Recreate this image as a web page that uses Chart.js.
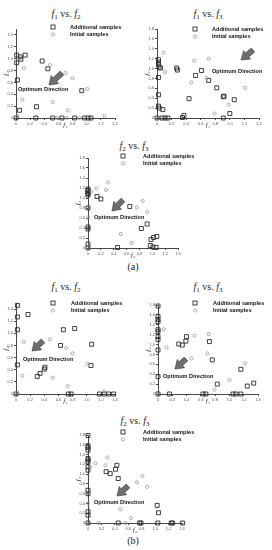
<!DOCTYPE html>
<html>
<head>
<meta charset="utf-8">
<script src="https://cdn.jsdelivr.net/npm/chart.js@4.4.1/dist/chart.umd.min.js"></script>
<style>
  body { margin: 0; width: 272px; height: 550px; background: #fff; position: relative; overflow: hidden; }
  .box { position: absolute; }
  .ttl { position: absolute; transform: translate(-50%, -50%); font-family: "Liberation Serif", serif; font-size: 10px; color: #222; white-space: nowrap; }
  .ttl sub { font-size: 70%; vertical-align: -2px; line-height: 0; }
</style>
</head>
<body>
<div class="ttl" style="left:66px;top:13px"><i>f</i><sub>1</sub> vs. <i>f</i><sub>2</sub></div>
<div class="ttl" style="left:208px;top:13px"><i>f</i><sub>1</sub> vs. <i>f</i><sub>3</sub></div>
<div class="ttl" style="left:134px;top:145px"><i>f</i><sub>2</sub> vs. <i>f</i><sub>3</sub></div>
<div class="ttl" style="left:133px;top:266px">(a)</div>
<div class="ttl" style="left:66px;top:286px"><i>f</i><sub>1</sub> vs. <i>f</i><sub>2</sub></div>
<div class="ttl" style="left:208px;top:286px"><i>f</i><sub>1</sub> vs. <i>f</i><sub>3</sub></div>
<div class="ttl" style="left:135px;top:420px"><i>f</i><sub>2</sub> vs. <i>f</i><sub>3</sub></div>
<div class="ttl" style="left:133px;top:540px">(b)</div>

<script>
// Pareto projections - additional (squares) and initial (circles) samples

// (a) f1 vs f2
const aF1F2Add = [[0.01,1.06],[0.06,1.03],[0.13,1.06],[0.07,0.99],[0.01,0.93],[0.37,0.96],[0.45,0.83],[0.02,0.64],[0.93,0.46],[0.05,0.13],[0.29,0.19],[0,0],[0.28,0],[0.52,0],[0.65,0],[0.83,0],[0.97,0],[1.02,0],[1.06,0]];
const aF1F2Init = [[0.11,0.84],[0.48,0.89],[0.70,0.76],[0.80,0.67],[1.01,0.49],[0.09,0.31],[0.52,0.27],[0.73,0.13],[1.25,0.03],[0.02,0.03],[0.58,0],[0.72,0],[0.90,0]];
// (a) f1 vs f3
const aF1F3Add = [[0.02,1.18],[0.02,1.13],[0.02,1.08],[0.03,1.03],[0.05,1.01],[0.02,0.82],[0.02,0.47],[0.02,0.24],[0.03,0.20],[0.08,0.17],[0.27,1.01],[0.28,0.97],[0.53,0.86],[0.61,0.96],[0.71,0.76],[0.82,0.61],[0.91,0.43],[0.92,0.44],[1.06,0.37],[0.44,0.39],[1.00,0.09],[0.37,0.05],[0.35,0.01],[0.07,0],[0.11,0],[0.15,0],[0.91,0],[0,0]];
const aF1F3Init = [[0.09,1.32],[0.11,0.93],[0.51,1.16],[0.71,1.20],[0.47,0.72],[0.68,0.81],[1.21,0.61],[0.79,0.09],[0.98,0.27],[0,0]];
// (a) f2 vs f3
const aF2F3Add = [[0,1.18],[0,1.15],[0,1.12],[0,1.09],[0,1.06],[0,0.80],[0,0.42],[0,0.38],[0,0.08],[0,0],[0.14,1.03],[0.20,0.98],[0.65,0.83],[0.83,0.39],[0.92,0.48],[0.98,0.17],[1.02,0.21],[1.07,0.23],[0.97,0.05],[1.01,0.02],[1.06,0.01],[0.46,0.01]];
const aF2F3Init = [[0.05,1.13],[0.13,1.19],[0.28,1.16],[0.31,1.31],[0.76,0.81],[0.85,0.94],[0.92,0.72],[0.51,0.28],[0.68,0.10],[0,0.61],[0,0.80],[0,0.08],[0,0]];

// (b) f1 vs f2
const bF1F2Add = [[0.02,1.46],[0.02,1.27],[0.17,1.31],[0.02,1.06],[0.67,1.06],[0.83,1.08],[0.63,0.80],[1.07,0.82],[0.02,0.48],[0.41,0.44],[0.40,0.41],[0.34,0.34],[0.30,0.29],[1.06,0.47],[0,0],[0.74,0],[0.78,0],[1.18,0],[1.25,0],[1.31,0],[1.38,0]];
const bF1F2Init = [[0.11,0.86],[0.48,0.90],[0.71,0.76],[0.80,0.67],[1.01,0.50],[0.09,0.30],[0.52,0.27],[0.73,0.13],[1.25,0.04],[0.02,0.02]];
// (b) f1 vs f3
const bF1F3Add = [[0,1.78],[0,1.57],[0,1.51],[0,1.46],[0,1.30],[0,1.26],[0,1.16],[0,1.10],[0,0.89],[0,0.35],[0,0],[0.29,1.01],[0.34,0.99],[0.39,1.07],[0.40,1.16],[0.72,1.06],[0.76,0.69],[0.83,0.20],[1.16,0.50],[1.25,0.16],[1.34,0.22],[0.16,0],[0.63,0],[0.67,0],[1.05,0],[1.09,0],[1.16,0]];
const bF1F3Init = [[0.08,1.31],[0.12,0.94],[0.51,1.18],[0.71,1.21],[0.47,0.72],[0.69,0.82],[1.22,0.62],[0.79,0.09],[1.00,0.28],[0,0]];
// (b) f2 vs f3
const bF2F3Add = [[0,1.79],[0,1.58],[0,1.54],[0,1.49],[0,1.32],[0,1.29],[0,1.25],[0,1.15],[0,1.08],[0,0.67],[0,0.60],[0,0.23],[0,0.16],[0,0],[0.27,1.05],[0.33,1.01],[0.41,1.10],[0.43,1.18],[0.45,0.91],[1.03,0.36],[1.05,0.21],[0.45,0],[0.77,0],[0.79,0],[1.04,0],[1.24,0],[1.26,0],[1.41,0]];
const bF2F3Init = [[0.03,1.15],[0.11,1.22],[0.26,1.18],[0.29,1.34],[0.73,0.83],[0.81,0.96],[0.88,0.74],[0.48,0.28],[0.64,0.10],[0,0.62],[0,0.40],[0.16,0],[0.56,0],[0,0]];

const legendLabels = ['Additional samples', 'Initial samples'];
const arrowLabel = 'Optimum Direction';

// chart area in page px (L,T,R,B), legend marker/text spots, arrow tip/tail/label
const panels = [
  { L: 16,  T: 29,  R: 115, B: 118, yMax: 1.5, xLab: 'f\u2081', yLab: 'f\u2082', add: aF1F2Add, init: aF1F2Init,
    legend: [53, 27, 70], arrow: { tip: [49, 85], tail: [62, 73], text: [18, 89] } },
  { L: 157, T: 29,  R: 259, B: 118, yMax: 1.8, xLab: 'f\u2081', yLab: 'f\u2083', add: aF1F3Add, init: aF1F3Init,
    legend: [195, 29, 212], arrow: { tip: [241, 60], tail: [253, 50], text: [212, 71] } },
  { L: 88,  T: 158, R: 178, B: 248, yMax: 1.8, xLab: 'f\u2082', yLab: 'f\u2083', add: aF2F3Add, init: aF2F3Init,
    legend: [123, 156, 143], arrow: { tip: [112, 211], tail: [123, 200], text: [94, 217] } },
  { L: 16,  T: 303, R: 115, B: 394, yMax: 1.5, xLab: 'f\u2081', yLab: 'f\u2082', add: bF1F2Add, init: bF1F2Init,
    legend: [53, 303, 71], arrow: { tip: [32, 351], tail: [43, 341], text: [23, 359] } },
  { L: 158, T: 305, R: 258, B: 394, yMax: 1.8, xLab: 'f\u2081', yLab: 'f\u2083', add: bF1F3Add, init: bF1F3Init,
    legend: [195, 303, 213], arrow: { tip: [175, 369], tail: [186, 359], text: [163, 376] } },
  { L: 88,  T: 435, R: 182, B: 523, yMax: 1.8, xLab: 'f\u2082', yLab: 'f\u2083', add: bF2F3Add, init: bF2F3Init,
    legend: [123, 432, 143], arrow: { tip: [117, 496], tail: [128, 486], text: [94, 502] } }
];

const PAD_L = 18, PAD_T = 8, PAD_R = 24, PAD_B = 14;
const SQ_COLOR = '#2a2a2a';
const CI_COLOR = '#8c8c8c';

function drawArrow(ctx, tip, tail) {
    const dx = tail[0] - tip[0], dy = tail[1] - tip[1];
    const len = Math.sqrt(dx * dx + dy * dy);
    const ux = dx / len, uy = dy / len;
    const nx = -uy, ny = ux;
    const hl = 8, hw = 5.5, sw = 2.6;
    const bx = tip[0] + ux * hl, by = tip[1] + uy * hl;
    ctx.beginPath();
    ctx.moveTo(tip[0], tip[1]);
    ctx.lineTo(bx + nx * hw, by + ny * hw);
    ctx.lineTo(bx + nx * sw, by + ny * sw);
    ctx.lineTo(tail[0] + nx * sw, tail[1] + ny * sw);
    ctx.lineTo(tail[0] - nx * sw, tail[1] - ny * sw);
    ctx.lineTo(bx - nx * sw, by - ny * sw);
    ctx.lineTo(bx - nx * hw, by - ny * hw);
    ctx.closePath();
    ctx.fillStyle = '#6e6e6e';
    ctx.fill();
    ctx.strokeStyle = '#333';
    ctx.lineWidth = 0.6;
    ctx.stroke();
}

const overlayPlugin = {
    id: 'overlay',
    afterDatasetsDraw(chart, args, opts) {
        const ctx = chart.ctx;
        const ox = opts.ox, oy = opts.oy;
        const lg = opts.legend, ar = opts.arrow;
        ctx.save();
        ctx.font = 'bold 5.6px "Liberation Sans", Arial, sans-serif';
        ctx.textBaseline = 'middle';
        ctx.fillStyle = '#111';

        // legend
        const mx = lg[0] - ox, my = lg[1] - oy, tx = lg[2] - ox;
        ctx.strokeStyle = SQ_COLOR;
        ctx.lineWidth = 0.9;
        ctx.strokeRect(mx - 2, my - 2, 4, 4);
        ctx.fillText(legendLabels[0], tx, my);
        ctx.beginPath();
        ctx.strokeStyle = CI_COLOR;
        ctx.lineWidth = 0.7;
        ctx.arc(mx, my + 7.5, 1.6, 0, Math.PI * 2);
        ctx.stroke();
        ctx.fillText(legendLabels[1], tx, my + 7.5);

        // arrow
        drawArrow(ctx, [ar.tip[0] - ox, ar.tip[1] - oy], [ar.tail[0] - ox, ar.tail[1] - oy]);
        ctx.fillStyle = '#111';
        ctx.fillText(arrowLabel, ar.text[0] - ox, ar.text[1] - oy);
        ctx.restore();
    }
};

function keepFifths(scale) {
    scale.ticks = scale.ticks.filter(t => Math.abs(t.value * 5 - Math.round(t.value * 5)) < 1e-6);
}

function axisOptions(max, label, isX) {
    return {
        type: 'linear',
        min: 0,
        max: max,
        afterBuildTicks: keepFifths,
        afterFit: function(scale) {
            if (isX) scale.height = PAD_B; else scale.width = PAD_L;
        },
        ticks: {
            stepSize: 0.2,
            autoSkip: false,
            maxRotation: 0,
            padding: 1,
            color: '#555',
            font: { family: 'Liberation Sans', size: 4 }
        },
        grid: { display: true, drawOnChartArea: false, drawTicks: true, tickLength: 2, color: '#444' },
        border: { display: true, color: '#333', width: 0.9 },
        title: {
            display: true,
            text: label,
            color: '#333',
            padding: isX ? { top: 0, bottom: 3 } : { top: 4, bottom: 0 },
            font: { family: 'Liberation Serif', style: 'italic', size: 7 }
        }
    };
}

function toPoints(arr) {
    return arr.map(p => ({ x: p[0], y: p[1] }));
}

panels.forEach((p, i) => {
    const ox = p.L - PAD_L, oy = p.T - PAD_T;
    const w = p.R - p.L + PAD_L + PAD_R;
    const h = p.B - p.T + PAD_T + PAD_B;
    const box = document.createElement('div');
    box.className = 'box';
    box.style.left = ox + 'px';
    box.style.top = oy + 'px';
    box.style.width = w + 'px';
    box.style.height = h + 'px';
    const cv = document.createElement('canvas');
    box.appendChild(cv);
    document.body.appendChild(box);

    new Chart(cv.getContext('2d'), {
        type: 'scatter',
        data: {
            datasets: [
                {
                    label: legendLabels[1],
                    data: toPoints(p.init),
                    pointStyle: 'circle',
                    pointRadius: 1.6,
                    pointBorderWidth: 0.7,
                    borderColor: CI_COLOR,
                    backgroundColor: 'rgba(0,0,0,0)',
                    clip: false
                },
                {
                    label: legendLabels[0],
                    data: toPoints(p.add),
                    pointStyle: 'rect',
                    pointRadius: 2.8,
                    pointBorderWidth: 0.9,
                    borderColor: SQ_COLOR,
                    backgroundColor: 'rgba(0,0,0,0)',
                    clip: false
                }
            ]
        },
        options: {
            responsive: true,
            maintainAspectRatio: false,
            animation: false,
            events: [],
            layout: { padding: { left: 0, top: PAD_T, right: PAD_R, bottom: 0 } },
            scales: {
                x: axisOptions(1.4, p.xLab, true),
                y: axisOptions(p.yMax, p.yLab, false)
            },
            plugins: {
                legend: { display: false },
                tooltip: { enabled: false },
                overlay: { ox: ox, oy: oy, legend: p.legend, arrow: p.arrow }
            }
        },
        plugins: [overlayPlugin]
    });
});
</script>
</body>
</html>
